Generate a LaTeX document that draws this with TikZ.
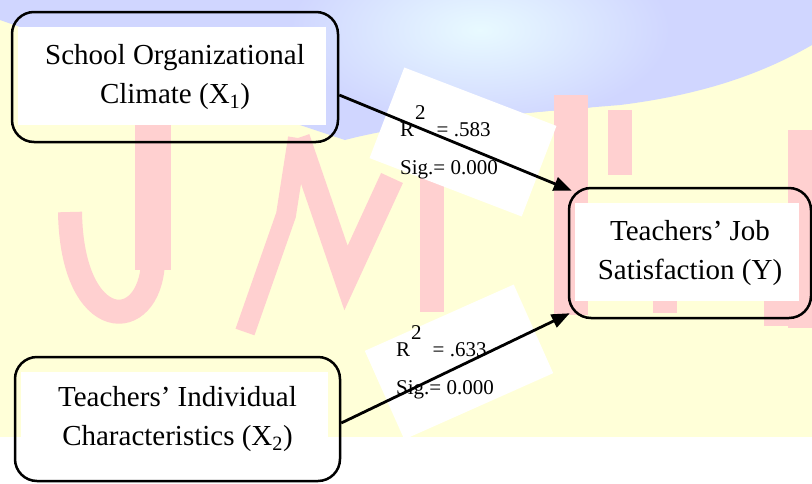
\documentclass[tikz,border=0pt]{standalone}
\usepackage{fontspec}
\setmainfont{Liberation Serif}
\definecolor{wmyellow}{RGB}{255,255,216}
\definecolor{wmblue}{RGB}{208,214,255}
\definecolor{wmcyan}{RGB}{232,250,255}
\definecolor{wmpink}{RGB}{255,208,208}
\usetikzlibrary{arrows.meta, calc}

\begin{document}
\begin{tikzpicture}[x=1pt, y=-1pt,
    box/.style={draw, line width=2.5pt, rounded corners=22pt, align=center,
      inner sep=0pt, font=\fontsize{29}{39}\selectfont,
      path picture={\fill[white, sharp corners]
        ($(path picture bounding box.south west)+(6,-17)$) rectangle
        ($(path picture bounding box.north east)+(-12,15)$);}},
    fitbox/.style={fill=white, inner sep=0pt, minimum width=163pt, minimum height=97pt},
    stat/.style={anchor=base west, inner sep=0pt, font=\fontsize{21}{25}\selectfont},
    link/.style={-{Triangle[length=18pt, width=14pt]}, line width=2.8pt},
    wm/.style={wmpink, line width=24pt}]
    \useasboundingbox (0,0) rectangle (812,483);

    % watermark in the background
    \fill[wmyellow] (0,0) rectangle (812,437);
    \begin{scope}
      \clip (0,0) -- (812,0) -- (812,45)
        .. controls (760,75) and (700,95) .. (620,105)
        .. controls (560,110) and (420,120) .. (345,140)
        -- (300,125) -- (20,27) -- (0,20) -- cycle;
      \fill[wmblue] (0,0) rectangle (812,150);
      \shade[inner color=wmcyan, outer color=wmblue] (480,30) ellipse [x radius=190, y radius=95];
    \end{scope}
    \draw[wm, line width=36pt] (153,125) -- (153,270);
    \draw[wm] (153,262) .. controls (150,335) and (72,335) .. (70,212);
    \draw[wm, line width=20pt] (245,332) -- (286,215) -- (298,138);
    \draw[wm] (298,138) -- (346,278) -- (392,178);
    \draw[wm] (432,175) -- (432,312);
    \draw[wm, line width=34pt] (571,95) -- (571,315);
    \draw[wm] (620,110) -- (620,175);
    \draw[wm] (800,130) -- (800,328);
    \draw[wm] (665,250) -- (665,313);
    \draw[wm] (776,250) -- (776,326);

    % fit statistics behind the arrows
    \node[fitbox, rotate=-21] (fitone) at (463,142) {};
    \node[fitbox, rotate=24]  (fittwo) at (459,362) {};

    \node[box, minimum width=326pt, minimum height=130pt] (climate) at (175,77)
      {School Organizational\\Climate (X\textsubscript{1})};
    \node[box, minimum width=325pt, minimum height=124pt] (indiv) at (177.5,419)
      {Teachers' Individual\\Characteristics (X\textsubscript{2})};
    \node[box, minimum width=242pt, minimum height=130pt] (satisf) at (690,253)
      {Teachers' Job\\Satisfaction (Y)};

    \draw[link] ($(climate.east)+(0,18)$) -- ($(satisf.north west)+(4,4)$);
    \draw[link] ($(indiv.east)+(0,4)$) -- ($(satisf.south west)+(2,-6)$);

    \foreach \nm/\x/\y/\val in {one/400/136/.583, two/396/356/.633}{%
      \node[stat] (r\nm)   at (\x,\y)    {R\kern1pt\raisebox{17pt}{2}\kern11pt= \val};
      \node[stat] (sig\nm) at (\x,\y+38) {Sig.= 0.000};
    }
  \end{tikzpicture}
\end{document}
